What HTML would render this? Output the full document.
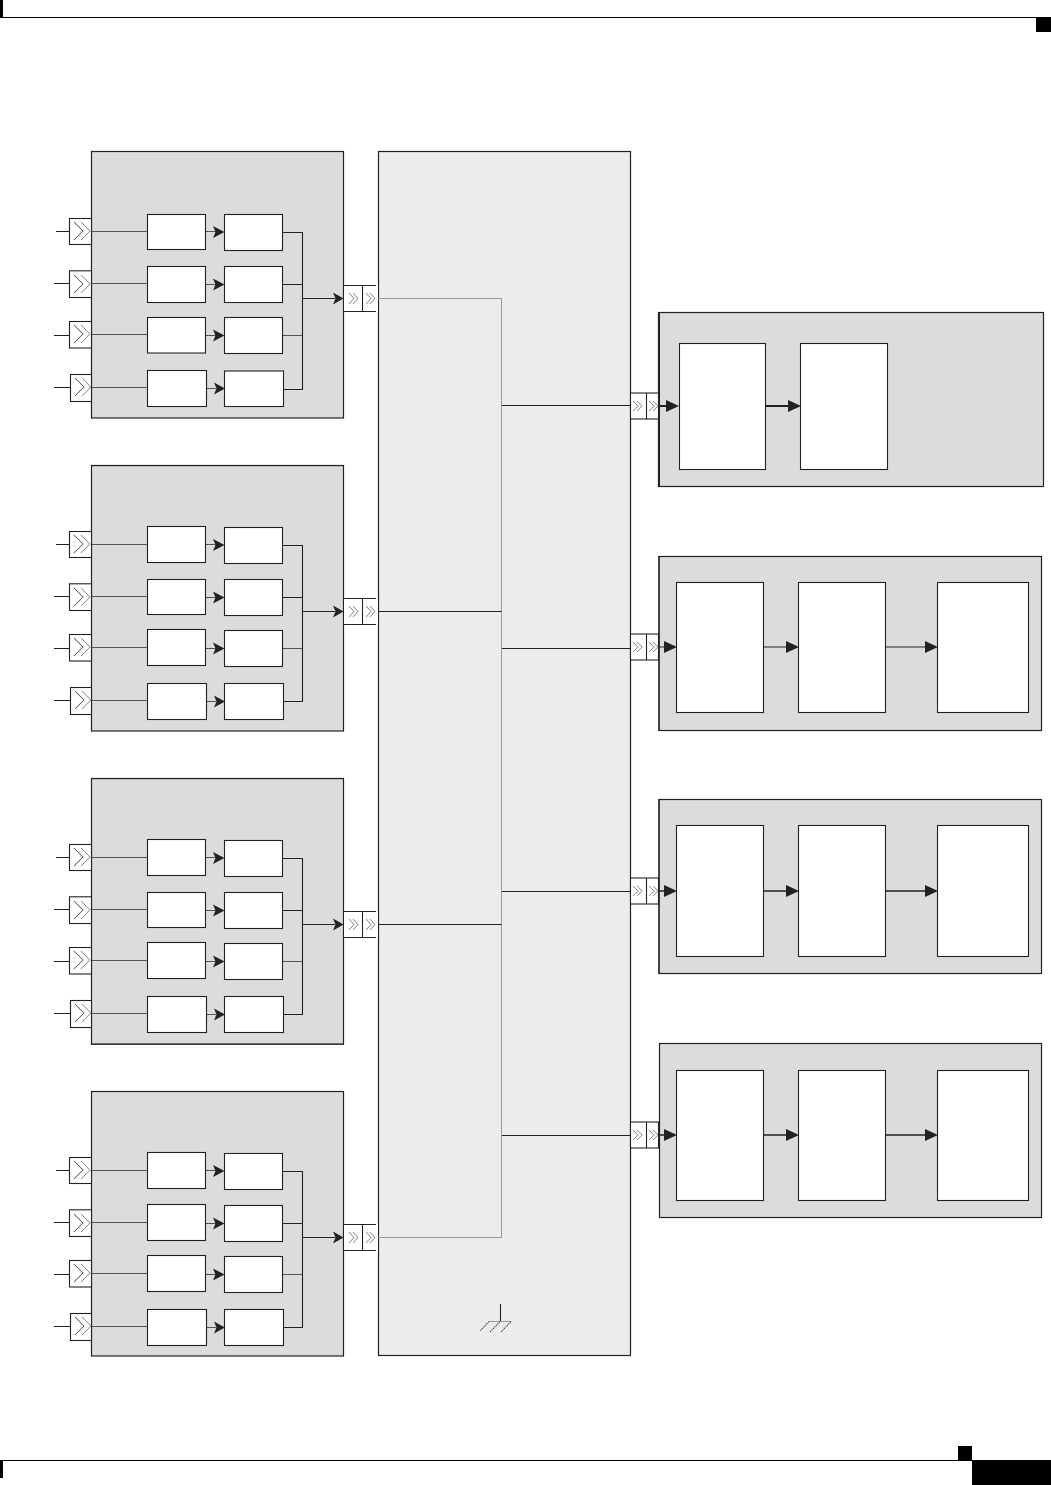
<!DOCTYPE html>
<html>
<head>
<meta charset="utf-8">
<title>Diagram</title>
<style>
html,body{margin:0;padding:0;background:#fff;}
svg{display:block;}
.blk{fill:#dcdcdc;stroke:#222;stroke-width:1.2;}
.box{fill:#fff;stroke:#222;stroke-width:1.1;}
.ln{fill:none;stroke:#222;stroke-width:1.1;}
.g1{fill:none;stroke:#555;stroke-width:1;}
.g2{fill:none;stroke:#999;stroke-width:1;}
.hd{fill:#222;}
.chev{fill:none;stroke:#777;stroke-width:.7;}
.chev2{fill:none;stroke:#333;stroke-width:.7;}
</style>
</head>
<body>
<svg xmlns="http://www.w3.org/2000/svg" width="1051" height="1485" viewBox="0 0 1051 1485">
<defs>
<g id="inchev">
  <path class="chev2" d="M74 -9 L83 0 L74 9"/>
  <path class="chev" d="M81 -9 L90 0 L81 9"/>
</g>
<g id="col1">
  <rect class="box" x="147.5" y="0" width="58" height="36"/>
  <rect class="box" x="224.5" y="1" width="58" height="36"/>
</g>
<g id="col4">
  <rect class="box" x="147.5" y="0" width="59" height="36"/>
  <rect class="box" x="224.5" y="0" width="59" height="36"/>
</g>
<g id="left">
  <!-- input connectors -->
  <rect class="box" x="69.5" y="218.5" width="22" height="26"/>
  <rect class="box" x="69.5" y="270.8" width="22" height="26.7"/>
  <rect class="box" x="69.5" y="321.5" width="22" height="26.5"/>
  <rect class="box" x="70.5" y="374.5" width="21" height="27"/>
  <use href="#inchev" transform="translate(0,231)"/>
  <use href="#inchev" transform="translate(0,284)"/>
  <use href="#inchev" transform="translate(0,334)"/>
  <use href="#inchev" transform="translate(1,387)"/>
  <path class="ln" d="M56 231.5H69M54 283.5H69M54 335.5H69M54 387.5H70"/>
  <!-- lines to first column -->
  <path class="g1" d="M92 231.5H147M92 334.5H147M92 387.5H147"/>
  <path class="g1" stroke-width="1.3" d="M92 283.5H147"/>
  <path class="g1" d="M206 231.5H216M206 284.5H216M206 335.5H216M207 388.5H216"/>
  <!-- arrowheads -->
  <path class="hd" d="M213 226L224.5 232L213 238L215.5 232Z"/>
  <path class="hd" d="M213 278.5L224.5 284.5L213 290.5L215.5 284.5Z"/>
  <path class="hd" d="M213 329.5L224.5 335.5L213 341.5L215.5 335.5Z"/>
  <path class="hd" d="M214 382.5L225 388.5L214 394.5L216.5 388.5Z"/>
  <!-- collector -->
  <path class="ln" d="M283 232.5H302.5M283 284.5H302.5M302.5 232V389M303 298.5H335"/>
  <path class="g1" d="M283 335.5H302"/>
  <path class="hd" d="M333 292.5L343.5 298.5L333 304.5L335.5 298.5Z"/>
  <!-- output connector -->
  <rect x="344" y="286" width="18" height="25" fill="#fff"/>
  <rect x="363" y="286" width="15" height="25" fill="#fff"/>
  <path class="ln" d="M343.5 285.5H376M343.5 311.5H376M362.5 285.5V311.5"/>
  <path class="chev" d="M349 293L354 298.5L349 304M353 293L358 298.5L353 304"/>
  <path class="chev" d="M366 293L371 298.5L366 304M370 293L375 298.5L370 304"/>
</g>
<g id="rconn">
  <rect class="box" x="630.5" y="-13" width="28" height="26"/>
  <path class="ln" d="M646.5 -13V13"/>
  <path class="chev" d="M633 -5L638 0L633 5M637 -5L642 0L637 5"/>
  <path class="chev" d="M649 -5L654 0L649 5M653 -5L658 0L653 5"/>
</g>
</defs>

<!-- page furniture -->
<rect x="0" y="0" width="3" height="17" fill="#000"/>
<rect x="0" y="17" width="1051" height="1" fill="#000"/>
<rect x="1036" y="17" width="15" height="15" fill="#000"/>
<rect x="0" y="1460" width="972" height="1" fill="#000"/>
<rect x="0" y="1460" width="3" height="18" fill="#000"/>
<rect x="958" y="1446" width="14" height="14" fill="#000"/>
<rect x="972" y="1460" width="79" height="25" fill="#000"/>

<!-- central bus -->
<rect x="378.5" y="151.5" width="252" height="1204" fill="#ececec" stroke="#222" stroke-width="1.2"/>

<!-- left block backgrounds -->
<rect class="blk" x="91.5" y="151.5" width="252" height="266.5"/>
<rect class="blk" x="91.5" y="465.5" width="252" height="265.5"/>
<rect class="blk" x="91.5" y="778.5" width="252" height="265.5"/>
<rect class="blk" x="91.5" y="1091.5" width="252" height="264.5"/>
<path stroke="#222" stroke-width="1" fill="none" d="M91 465.6H344M91 778.6H344M91 1044.4H344"/>

<!-- left block wiring -->
<use href="#left"/>
<use href="#left" transform="translate(0,313)"/>
<use href="#left" transform="translate(0,626)"/>
<use href="#left" transform="translate(0,939)"/>
<path class="ln" d="M283 389.5H302.5V388"/>
<path class="ln" d="M283 701.5H302.5M283 1014.5H302.5M283 1327.5H302.5"/>

<!-- block 1 boxes -->
<rect class="box" x="147.5" y="214.5" width="58" height="35"/>
<rect class="box" x="224.5" y="214.5" width="58" height="36"/>
<rect class="box" x="147.5" y="266.5" width="58" height="36"/>
<rect class="box" x="224.5" y="266.5" width="58" height="36"/>
<rect class="box" x="147.5" y="317.5" width="58" height="35.5"/>
<rect class="box" x="224.5" y="317.5" width="58" height="36"/>
<rect class="box" x="147.5" y="370.5" width="59" height="36"/>
<rect class="box" x="224.5" y="371" width="59" height="35.5"/>

<!-- block 2 boxes -->
<use href="#col1" transform="translate(0,526.5)"/>
<rect class="box" x="147.5" y="579.5" width="58" height="35"/>
<rect class="box" x="224.5" y="579.5" width="58" height="36"/>
<use href="#col1" transform="translate(0,629.5)"/>
<use href="#col4" transform="translate(0,683.5)"/>

<!-- block 3 boxes -->
<use href="#col1" transform="translate(0,839.5)"/>
<rect class="box" x="147.5" y="892.5" width="58" height="35"/>
<rect class="box" x="224.5" y="892.5" width="58" height="36"/>
<use href="#col1" transform="translate(0,942.5)"/>
<use href="#col4" transform="translate(0,996.5)"/>

<!-- block 4 boxes -->
<use href="#col1" transform="translate(0,1152.5)"/>
<use href="#col1" transform="translate(0,1204.5)"/>
<use href="#col1" transform="translate(0,1255.5)"/>
<use href="#col4" transform="translate(0,1309.5)"/>

<!-- bus wiring -->
<path class="g2" d="M378 298.5H501.5V1237.5H378" stroke-width="1.2"/>
<path class="ln" d="M378 611.5H501.5M378 924.5H501.5"/>
<path class="ln" d="M502 405.5H630M502 648.5H630M502 891.5H630M502 1135.5H630"/>

<!-- ground -->
<path class="ln" d="M500.5 1304V1322"/>
<path class="g2" d="M489 1321.5H511"/>
<path fill="none" stroke="#333" stroke-width=".9" stroke-dasharray="1.5 .7" d="M489 1321.5L480 1331M500 1321.5L490 1332M511 1321.5L501 1332"/>

<!-- right block A -->
<rect class="blk" x="658.5" y="312.5" width="385" height="174"/>
<path d="M659 312V487" stroke="#222" stroke-width="2"/>
<use href="#rconn" transform="translate(0,406)"/>
<rect class="box" x="679.5" y="343.5" width="86" height="126"/>
<rect class="box" x="800.5" y="343.5" width="87" height="126"/>
<path stroke="#222" stroke-width="2" d="M659 406H670M766 406H790"/>
<path class="hd" d="M666 400L679 406L666 412Z"/>
<path class="hd" d="M788 400L801 406L788 412Z"/>

<!-- right block B -->
<rect class="blk" x="659" y="556.5" width="382.5" height="174"/>
<path d="M659 556V731" stroke="#222" stroke-width="1.6"/>
<use href="#rconn" transform="translate(0,647)"/>
<rect class="box" x="676.5" y="582.5" width="87" height="130"/>
<rect class="box" x="798.5" y="582.5" width="87" height="130"/>
<rect class="box" x="937.5" y="582.5" width="91" height="130"/>
<path class="ln" d="M659 647H668M764 647H788M886 647H927"/>
<path class="hd" d="M664 641L677 647L664 653Z"/>
<path class="hd" d="M786 641L799 647L786 653Z"/>
<path class="hd" d="M925 641L938 647L925 653Z"/>

<!-- right block C -->
<rect class="blk" x="659" y="799.5" width="382.5" height="174"/>
<path d="M659 799V974" stroke="#222" stroke-width="1.6"/>
<use href="#rconn" transform="translate(0,891)"/>
<rect class="box" x="676.5" y="825.5" width="87" height="131"/>
<rect class="box" x="798.5" y="825.5" width="87" height="131"/>
<rect class="box" x="937.5" y="825.5" width="91" height="131"/>
<path stroke="#222" stroke-width="1.6" d="M659 891H668M764 891H788M886 891H927"/>
<path class="hd" d="M664 885L677 891L664 897Z"/>
<path class="hd" d="M786 885L799 891L786 897Z"/>
<path class="hd" d="M925 885L938 891L925 897Z"/>

<!-- right block D -->
<rect class="blk" x="659.5" y="1043.5" width="382" height="174"/>
<use href="#rconn" transform="translate(0,1135)"/>
<rect class="box" x="676.5" y="1070.5" width="87" height="130"/>
<rect class="box" x="798.5" y="1070.5" width="87" height="130"/>
<rect class="box" x="937.5" y="1070.5" width="91" height="130"/>
<path stroke="#222" stroke-width="1.6" d="M659 1135H668M764 1135H788M886 1135H927"/>
<path class="hd" d="M664 1129L677 1135L664 1141Z"/>
<path class="hd" d="M786 1129L799 1135L786 1141Z"/>
<path class="hd" d="M925 1129L938 1135L925 1141Z"/>
</svg>
</body>
</html>
